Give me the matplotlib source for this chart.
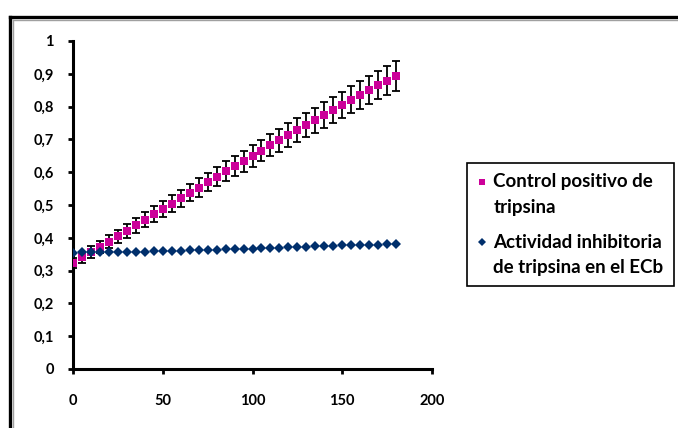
import numpy as np
import matplotlib
matplotlib.use("Agg")
import matplotlib.pyplot as plt
from matplotlib.lines import Line2D
from matplotlib.legend_handler import HandlerLine2D
from matplotlib.ticker import FuncFormatter

plt.rcParams['font.family'] = ['Lato', 'DejaVu Sans']

tiempo = list(range(0, 181, 5))
control_positivo = [0.323, 0.341, 0.356, 0.372, 0.388, 0.404, 0.421, 0.438, 0.455, 0.472,
                    0.488, 0.504, 0.521, 0.538, 0.553, 0.570, 0.586, 0.603, 0.618, 0.633,
                    0.650, 0.666, 0.683, 0.698, 0.713, 0.729, 0.744, 0.759, 0.775, 0.790,
                    0.805, 0.821, 0.836, 0.851, 0.866, 0.879, 0.894]
error_control = [0.016, 0.017, 0.019, 0.019, 0.020, 0.021, 0.022, 0.022, 0.023, 0.024,
                 0.025, 0.025, 0.026, 0.027, 0.028, 0.028, 0.029, 0.030, 0.031, 0.032,
                 0.033, 0.033, 0.034, 0.035, 0.036, 0.037, 0.037, 0.038, 0.039, 0.040,
                 0.041, 0.041, 0.042, 0.043, 0.044, 0.045, 0.046]
actividad_inhibitoria = [0.354, 0.356, 0.357, 0.357, 0.357, 0.357, 0.357, 0.357, 0.358, 0.359,
                         0.360, 0.360, 0.361, 0.362, 0.363, 0.364, 0.364, 0.365, 0.366, 0.367,
                         0.367, 0.368, 0.369, 0.370, 0.371, 0.372, 0.373, 0.374, 0.375, 0.376,
                         0.377, 0.377, 0.378, 0.379, 0.379, 0.380, 0.381]
etiquetas = ["Control positivo de\ntripsina", "Actividad inhibitoria\nde tripsina en el ECb"]
x_ticks = [0, 50, 100, 150, 200]
y_ticks = [0, 0.1, 0.2, 0.3, 0.4, 0.5, 0.6, 0.7, 0.8, 0.9, 1.0]

W, H = 678, 428
fig = plt.figure(figsize=(W / 100, H / 100), dpi=100)
ax = fig.add_axes([73 / W, 1 - 369 / H, (432 - 73) / W, (369 - 41) / H])

pink = '#CC0099'
navy = '#002F6C'

ax.errorbar(tiempo, control_positivo, yerr=error_control, fmt='none', ecolor='black',
            elinewidth=1.3, capsize=3, capthick=1.3, zorder=2)
ax.plot(tiempo, control_positivo, linestyle='none', marker='s', markersize=6,
        color=pink, markeredgewidth=0, zorder=3, label=etiquetas[0])
ax.plot(tiempo, actividad_inhibitoria, linestyle='none', marker='D', markersize=4.8,
        color=navy, markeredgewidth=0, zorder=4, label=etiquetas[1])

ax.set_xlim(0, 200)
ax.set_ylim(0, 1)
ax.set_xticks(x_ticks)
ax.set_yticks(y_ticks)
ax.yaxis.set_major_formatter(FuncFormatter(lambda v, p: ('%g' % round(v, 1)).replace('.', ',')))
for s in ['top', 'right']:
    ax.spines[s].set_visible(False)
for s in ['left', 'bottom']:
    ax.spines[s].set_linewidth(2.2)
    ax.spines[s].set_capstyle('projecting')
ax.tick_params(axis='both', direction='out', length=3.8, width=2, labelsize=10.5, colors='black')
ax.tick_params(axis='y', pad=10)
ax.tick_params(axis='x', pad=14)
for lbl in ax.get_xticklabels() + ax.get_yticklabels():
    lbl.set_fontweight('bold')


class FirstLineHandler(HandlerLine2D):
    def __init__(self, dy, **kw):
        super().__init__(**kw)
        self.dy = dy

    def create_artists(self, legend, orig_handle, xdescent, ydescent, width, height, fontsize, trans):
        arts = super().create_artists(legend, orig_handle, xdescent, ydescent, width, height, fontsize, trans)
        for a in arts:
            a.set_ydata(np.asarray(a.get_ydata(), dtype=float) + self.dy)
        return arts


h1, h2 = ax.get_legend_handles_labels()[0]
leg = fig.legend([h1, h2], etiquetas, loc='upper left',
                 bbox_to_anchor=(467 / W, 1 - 287 / H, (674 - 467) / W, (287 - 163) / H),
                 mode='expand', borderaxespad=0, frameon=True, fancybox=False,
                 edgecolor='black', framealpha=1, handlelength=0.5, handletextpad=0.35,
                 borderpad=0.55, labelspacing=0.95, numpoints=1, markerscale=0.8,
                 prop={'family': 'Lato', 'weight': 'bold', 'size': 13.5},
                 handler_map={h1: FirstLineHandler(9.4), h2: FirstLineHandler(9.4)})
leg.get_frame().set_linewidth(1.2)
for t in leg.get_texts():
    t.set_linespacing(1.6)

# outer chart-area border (top & left visible)
fig.add_artist(Line2D([9.5 / W, 9.5 / W], [0, 1 - 16.5 / H], transform=fig.transFigure,
                      color='black', linewidth=2.4, solid_capstyle='projecting'))
fig.add_artist(Line2D([9.5 / W, 1], [1 - 16.5 / H, 1 - 16.5 / H], transform=fig.transFigure,
                      color='black', linewidth=2.4, solid_capstyle='projecting'))
fig.add_artist(Line2D([12.5 / W, 12.5 / W], [0, 1 - 19.5 / H], transform=fig.transFigure,
                      color='#A0A0A0', linewidth=1.0))
fig.add_artist(Line2D([12.5 / W, 1], [1 - 19.5 / H, 1 - 19.5 / H], transform=fig.transFigure,
                      color='#A0A0A0', linewidth=1.0))

fig.savefig('out.png', dpi=100)
